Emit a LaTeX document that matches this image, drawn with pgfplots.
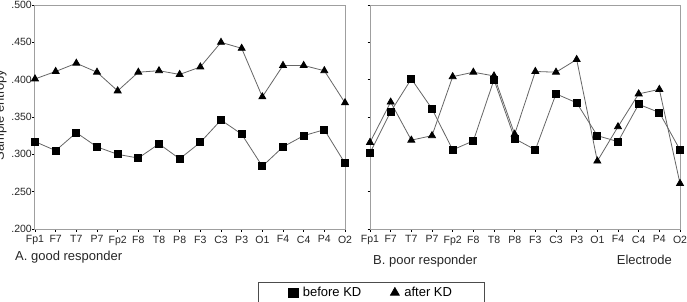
\documentclass[border=0pt]{standalone}
\usepackage{fontspec}
\setmainfont{Liberation Sans}
\usepackage{pgfplots}
\pgfplotsset{compat=1.18}
\begin{document}
\begin{tikzpicture}
\path[use as bounding box] (0pt,0pt) rectangle (687pt,301pt);
\pgfplotsset{
 common/.style={
  at={(#1,72pt)}, anchor=south west, scale only axis, width=310pt, height=224pt,
  xmin=0, xmax=15, ymin=0.2, ymax=0.5,
  xtick={0,...,15},
  xticklabels={Fp1,F7,T7,P7,Fp2,F8,T8,P8,F3,C3,P3,O1,F4,C4,P4,O2},
  ytick={0.2,0.25,0.3,0.35,0.4,0.45,0.5},
  axis line style={gray!75, line width=1pt},
  tick style={black, line width=0.7pt},
  tick align=outside, major tick length=2.5pt,
  xtick pos=bottom, ytick pos=left,
  ticklabel style={font=\fontsize{10.5}{12}\selectfont, text=black!85},
  xticklabel style={inner sep=1pt, yshift=-3pt},
  yticklabel style={inner sep=0.5pt},
  clip=false,
 },
 bef/.style={black!60, line width=0.8pt, mark=square*, mark size=3.5pt, mark options={fill=black, draw=black, solid}},
 aft/.style={black!60, line width=0.8pt, mark=triangle*, mark size=4pt, mark options={fill=black, draw=black, solid}},
}
\begin{axis}[common=35pt, yticklabels={.200,.250,.300,.350,.400,.450,.500},
  legend style={at={(1.085,-0.236)}, anchor=north, legend columns=2, draw=black!70, line width=0.6pt,
    inner xsep=30pt, inner ysep=3pt, font=\fontsize{13}{15}\selectfont,
    nodes={inner xsep=2pt},
    /tikz/every odd column/.append style={column sep=3pt},
    /tikz/every even column/.append style={column sep=27pt}},
  legend cell align=left]
\addplot[bef, forget plot] coordinates {(0,0.317)(1,0.305)(2,0.329)(3,0.310)(4,0.300)(5,0.295)(6,0.314)(7,0.294)(8,0.316)(9,0.346)(10,0.327)(11,0.284)(12,0.310)(13,0.325)(14,0.333)(15,0.288)};
\addplot[aft, forget plot] coordinates {(0,0.401)(1,0.411)(2,0.422)(3,0.410)(4,0.385)(5,0.410)(6,0.412)(7,0.407)(8,0.417)(9,0.450)(10,0.442)(11,0.377)(12,0.419)(13,0.419)(14,0.412)(15,0.369)};
\addlegendimage{only marks, mark=square*, mark size=4.6pt, fill=black, draw=black}
\addlegendentry{before KD}
\addlegendimage{only marks, mark=triangle*, mark size=5.2pt, fill=black, draw=black}
\addlegendentry{after KD}
\end{axis}
\begin{axis}[common=370pt, yticklabels={}]
\addplot[bef] coordinates {(0,0.302)(1,0.357)(2,0.401)(3,0.361)(4,0.306)(5,0.318)(6,0.400)(7,0.321)(8,0.306)(9,0.381)(10,0.369)(11,0.325)(12,0.317)(13,0.367)(14,0.356)(15,0.306)};
\addplot[aft] coordinates {(0,0.316)(1,0.370)(2,0.319)(3,0.325)(4,0.404)(5,0.410)(6,0.405)(7,0.327)(8,0.411)(9,0.410)(10,0.427)(11,0.291)(12,0.337)(13,0.381)(14,0.387)(15,0.261)};
\end{axis}
\node[anchor=base west, font=\fontsize{13}{15}\selectfont, text=black!85, inner sep=0pt] at (15pt,41pt) {A. good responder};
\node[anchor=base west, font=\fontsize{13}{15}\selectfont, text=black!85, inner sep=0pt] at (373pt,37pt) {B. poor responder};
\node[anchor=base east, font=\fontsize{13}{15}\selectfont, text=black!85, inner sep=0pt] at (672pt,37pt) {Electrode};
\node[rotate=90, anchor=base, font=\fontsize{13}{15}\selectfont, text=black!85, inner sep=0pt] at (4pt,186pt) {Sample entropy};
\end{tikzpicture}
\end{document}
